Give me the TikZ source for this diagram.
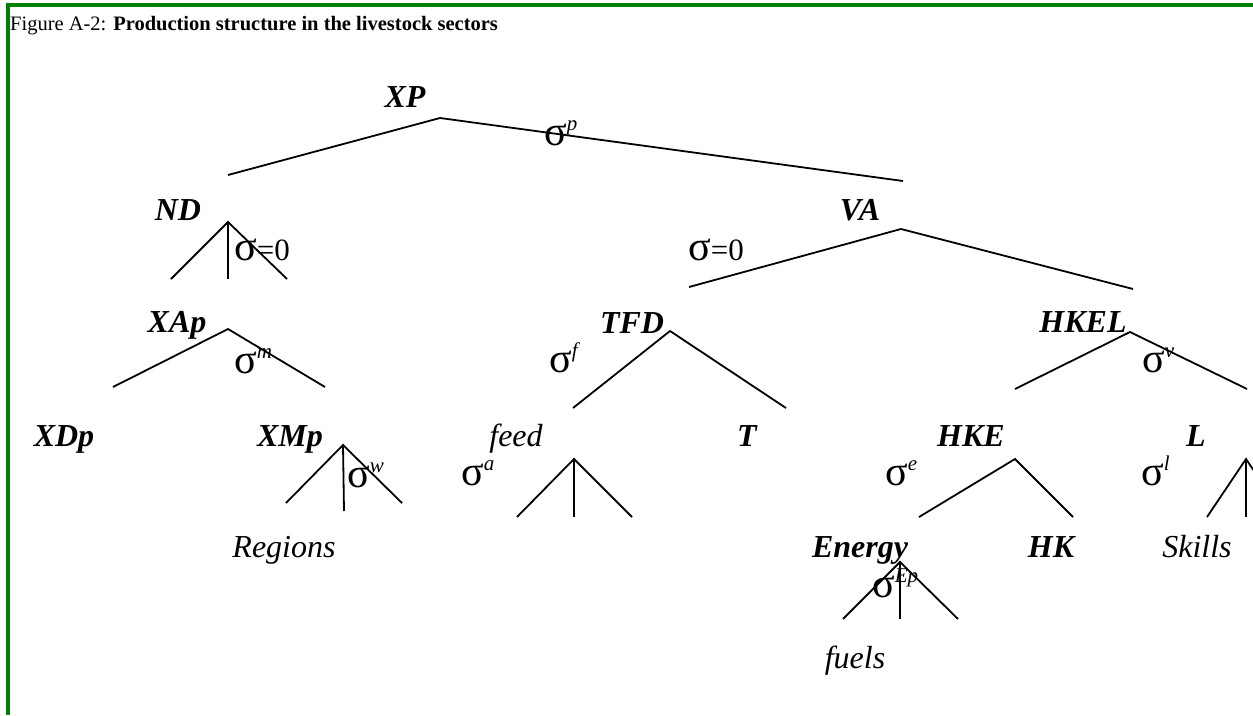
\documentclass[tikz,border=0pt]{standalone}
\usepackage{fontspec}
\setmainfont{Liberation Serif}
\definecolor{framegreen}{RGB}{0,128,0}
% sigma with a superscript, and sigma=0
\newcommand{\sig}[1]{{\fontsize{42}{42}\selectfont σ}\raisebox{15pt}{\fontsize{21}{21}\selectfont\itshape #1}}
\newcommand{\sigzero}{{\fontsize{42}{42}\selectfont σ}=0}

\begin{document}
\begin{tikzpicture}[x=1pt, y=-1pt,
    every node/.style={inner sep=0pt, anchor=base},
    lab/.style={font=\fontsize{32}{32}\selectfont\bfseries\itshape},
    ilab/.style={font=\fontsize{32}{32}\selectfont\itshape},
    sg/.style={font=\fontsize{31}{31}\selectfont, anchor=base west},
    branch/.style={line width=1.8pt}]
  \useasboundingbox (0,0) rectangle (1253,715);
  \clip (0,0) rectangle (1253,715);

  % Frame
  \draw[framegreen, line width=4pt] (6,5) -- (1253,5);
  \draw[framegreen, line width=4pt] (8,3) -- (8,715);

  % Title
  \node[anchor=base west, font=\fontsize{20.5}{21}\selectfont] (title) at (10,30)
    {Figure A-2: \textbf{Production structure in the livestock sectors}};

  % Top level
  \node[lab] (xp) at (405,107) {XP};
  \coordinate (xp-top) at (440,118);
  \coordinate (xp-l) at (228,175);
  \coordinate (xp-r) at (903,181);
  \draw[branch] (xp-l) -- (xp-top) -- (xp-r);
  \node[sg] (sp) at (544,145) {\sig{p}};

  % ND
  \node[lab] (nd) at (178,220) {ND};
  \coordinate (nd-top) at (228,222);
  \coordinate (nd-l) at (171,279);
  \coordinate (nd-m) at (228,279);
  \coordinate (nd-r) at (287,279);
  \draw[branch] (nd-l) -- (nd-top) -- (nd-r);
  \draw[branch] (nd-top) -- (nd-m);
  \node[sg] (snd) at (234,260) {\sigzero};

  % VA
  \node[lab] (va) at (860,220) {VA};
  \coordinate (va-top) at (901,229);
  \coordinate (va-l) at (689,287);
  \coordinate (va-r) at (1133,289);
  \draw[branch] (va-l) -- (va-top) -- (va-r);
  \node[sg] (sva) at (688,260) {\sigzero};

  % XAp
  \node[lab] (xap) at (177,332) {XAp};
  \coordinate (xap-top) at (228,329);
  \coordinate (xap-l) at (113,387);
  \coordinate (xap-r) at (325,387);
  \draw[branch] (xap-l) -- (xap-top) -- (xap-r);
  \node[sg] (sm) at (234,373) {\sig{m}};

  % TFD
  \node[lab] (tfd) at (632,333) {TFD};
  \coordinate (tfd-top) at (670,331);
  \coordinate (tfd-l) at (573,408);
  \coordinate (tfd-r) at (786,408);
  \draw[branch] (tfd-l) -- (tfd-top) -- (tfd-r);
  \node[sg] (sf) at (549,372) {\sig{f}};

  % HKEL
  \node[lab] (hkel) at (1083,332) {HKEL};
  \coordinate (hkel-top) at (1130,332);
  \coordinate (hkel-l) at (1015,389);
  \coordinate (hkel-r) at (1247,389);
  \draw[branch] (hkel-l) -- (hkel-top) -- (hkel-r);
  \node[sg] (sv) at (1142,372) {\sig{v}};

  % Fourth row
  \node[lab] (xdp) at (64,446) {XDp};
  \node[lab] (xmp) at (290,446) {XMp};
  \coordinate (xmp-top) at (343,445);
  \coordinate (xmp-l) at (286,503);
  \coordinate (xmp-m) at (344,511);
  \coordinate (xmp-r) at (402,503);
  \draw[branch] (xmp-l) -- (xmp-top) -- (xmp-r);
  \draw[branch] (xmp-top) -- (xmp-m);
  \node[sg] (sw) at (347,487) {\sig{w}};

  \node[ilab] (feed) at (516,446) {feed};
  \coordinate (feed-top) at (574,459);
  \coordinate (feed-l) at (517,517);
  \coordinate (feed-m) at (574,517);
  \coordinate (feed-r) at (632,517);
  \draw[branch] (feed-l) -- (feed-top) -- (feed-r);
  \draw[branch] (feed-top) -- (feed-m);
  \node[sg] (sa) at (461,485) {\sig{a}};

  \node[lab] (t) at (747,446) {T};

  \node[lab] (hke) at (971,446) {HKE};
  \coordinate (hke-top) at (1015,459);
  \coordinate (hke-l) at (919,517);
  \coordinate (hke-r) at (1073,517);
  \draw[branch] (hke-l) -- (hke-top) -- (hke-r);
  \node[sg] (se) at (885,485) {\sig{e}};

  \node[lab] (l) at (1196,446) {L};
  \coordinate (l-top) at (1246,459);
  \coordinate (l-l) at (1207,517);
  \coordinate (l-m) at (1246,517);
  \coordinate (l-r) at (1285,517);
  \draw[branch] (l-l) -- (l-top) -- (l-r);
  \draw[branch] (l-top) -- (l-m);
  \node[sg] (sl) at (1141,485) {\sig{l}};

  % Fifth row
  \node[ilab] (regions) at (284,557) {Regions};
  \node[lab] (energy) at (860,557) {Energy};
  \node[lab] (hk) at (1051,557) {HK};
  \node[ilab] (skills) at (1197,557) {Skills};
  \coordinate (en-top) at (900,562);
  \coordinate (en-l) at (843,619);
  \coordinate (en-m) at (900,619);
  \coordinate (en-r) at (958,619);
  \draw[branch] (en-l) -- (en-top) -- (en-r);
  \draw[branch] (en-top) -- (en-m);
  \node[sg] (sep) at (872,597) {\sig{Ep}};

  \node[ilab] (fuels) at (855,668) {fuels};
\end{tikzpicture}
\end{document}
